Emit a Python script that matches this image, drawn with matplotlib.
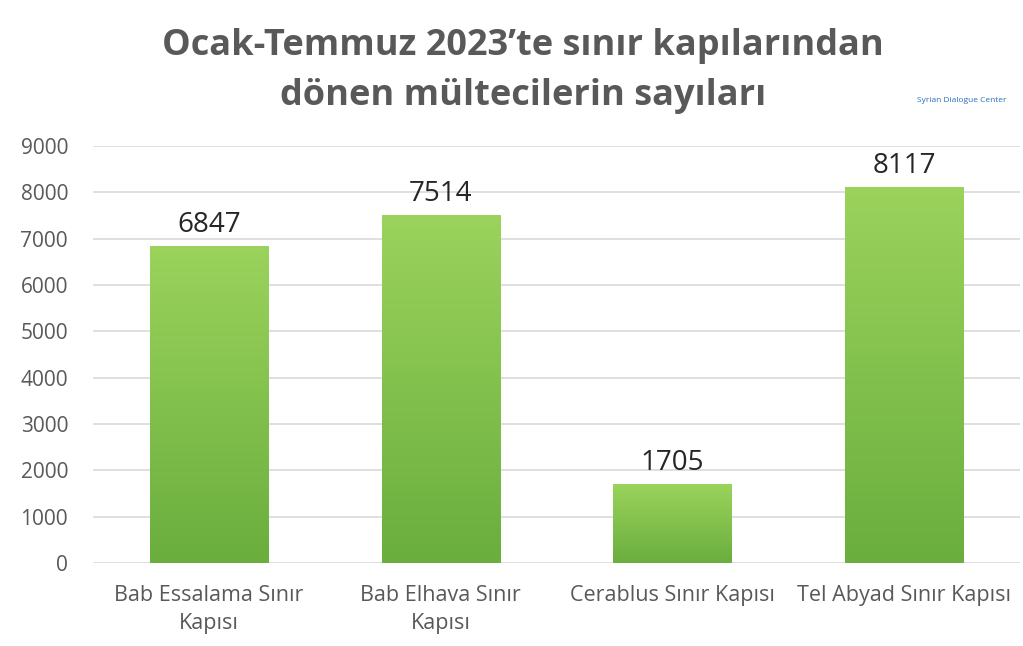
import numpy as np
import matplotlib.pyplot as plt
from matplotlib.colors import LinearSegmentedColormap

plt.rcParams['font.family'] = ['Open Sans', 'DejaVu Sans']

kapilar = ['Bab Essalama Sınır\nKapısı', 'Bab Elhava Sınır\nKapısı',
           'Cerablus Sınır Kapısı', 'Tel Abyad Sınır Kapısı']
donenler = [6847, 7514, 1705, 8117]
y_ticks = [0, 1000, 2000, 3000, 4000, 5000, 6000, 7000, 8000, 9000]

gri = '#595959'

fig = plt.figure(figsize=(10.23, 6.46), dpi=100)
ax = fig.add_axes([0.091, 0.1285, 0.906, 0.6455])

x = np.arange(len(kapilar))
bars = ax.bar(x, donenler, width=0.51, color='none', zorder=3)

# yesil gradyan (ustte acik, altta koyu)
cmap = LinearSegmentedColormap.from_list('yesil', ['#6aae3e', '#9bd35c'])
grad = np.linspace(0, 1, 256).reshape(-1, 1)
for b in bars:
    x0, y0 = b.get_x(), b.get_y()
    w, h = b.get_width(), b.get_height()
    im = ax.imshow(grad, cmap=cmap, origin='lower', aspect='auto',
                   extent=[x0, x0 + w, y0, y0 + h], zorder=3)
    im.set_clip_path(b)

for xi, v in zip(x, donenler):
    ax.text(xi, v + 150, str(v), ha='center', va='bottom',
            fontsize=20, color='#262626')

ax.set_xlim(-0.5, len(kapilar) - 0.5)
ax.set_ylim(0, 9000)
ax.set_yticks(y_ticks)
ax.set_xticks(x)
ax.set_xticklabels(kapilar, fontsize=15.5, color=gri, linespacing=1.4)
ax.tick_params(axis='y', labelsize=15, labelcolor=gri, length=0, pad=18)
ax.tick_params(axis='x', length=0, pad=16)
ax.grid(axis='y', color='#d9d9d9', linewidth=1.2, zorder=0)
ax.set_axisbelow(True)
for s in ax.spines.values():
    s.set_visible(False)

fig.text(0.511, 0.929, 'Ocak-Temmuz 2023’te sınır kapılarından',
         ha='center', va='center', fontsize=26, fontweight='bold', color=gri)
fig.text(0.511, 0.851, 'dönen mültecilerin sayıları',
         ha='center', va='center', fontsize=26, fontweight='bold', color=gri)

fig.text(0.94, 0.845, 'Syrian Dialogue Center', ha='center', va='center',
         fontsize=6, color='#2a6db5')

fig.savefig('out.png', dpi=100)
